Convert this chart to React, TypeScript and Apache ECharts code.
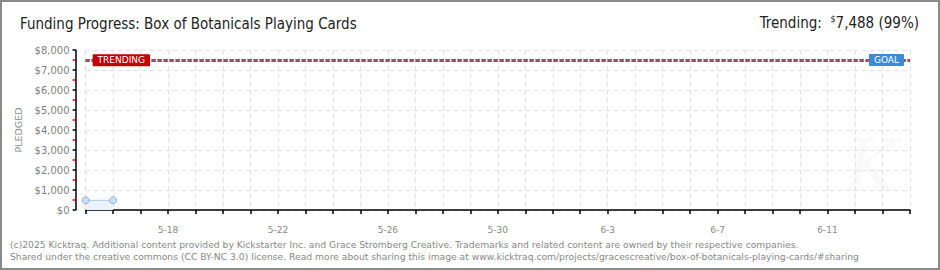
import React, { useEffect, useRef } from "react";
import * as echarts from "echarts";

const dates = [
  "5-15", "5-16", "5-17", "5-18", "5-19", "5-20", "5-21", "5-22", "5-23", "5-24",
  "5-25", "5-26", "5-27", "5-28", "5-29", "5-30", "5-31", "6-1", "6-2", "6-3",
  "6-4", "6-5", "6-6", "6-7", "6-8", "6-9", "6-10", "6-11", "6-12", "6-13", "6-14",
];
const pledged = [485, 485];
const goal = 7500;
const trending = 7488;
const trendingPct = 99;
const yMax = 8000;
const yStep = 1000;

const titleText = "Funding Progress: Box of Botanicals Playing Cards";
const footer1 =
  "(c)2025 Kicktraq. Additional content provided by Kickstarter Inc. and Grace Stromberg Creative. Trademarks and related content are owned by their respective companies.";
const footer2 =
  "Shared under the creative commons (CC BY-NC 3.0) license. Read more about sharing this image at www.kicktraq.com/projects/gracescreative/box-of-botanicals-playing-cards/#sharing";

const titleFont = "'Liberation Sans Narrow', 'DejaVu Sans Condensed', 'Liberation Sans', sans-serif";
const smallFont = "'DejaVu Sans', 'Liberation Sans', sans-serif";

export default function App() {
  const ref = useRef<HTMLDivElement>(null);
  useEffect(() => {
    if (!ref.current) return;
    const chart = echarts.init(ref.current, undefined, { renderer: "svg" });
    const fmt = (v: number) => "$" + v.toLocaleString("en-US");
    chart.setOption({
      animation: false,
      backgroundColor: "#ffffff",
      grid: { left: 85.6, right: 30, top: 50, bottom: 60, containLabel: false },
      xAxis: {
        type: "category",
        data: dates,
        boundaryGap: false,
        offset: 9,
        axisLine: { lineStyle: { color: "#000", width: 1.5 } },
        axisTick: { show: true, interval: 0, length: 4, lineStyle: { color: "#000", width: 1.5 } },
        axisLabel: {
          interval: (i: number) => i % 4 === 3,
          color: "#888",
          fontSize: 9,
          fontFamily: smallFont,
          margin: 6,
        },
        splitLine: {
          show: true,
          interval: 0,
          lineStyle: { color: "#e4e4e4", type: [5, 3], width: 1 },
        },
      },
      yAxis: {
        type: "value",
        min: 0,
        max: yMax,
        interval: yStep,
        offset: 10,
        name: "PLEDGED",
        nameLocation: "middle",
        nameGap: 50,
        nameTextStyle: { color: "#888", fontSize: 9.5, fontFamily: smallFont },
        axisLine: { show: true, lineStyle: { color: "#000", width: 1.5 } },
        axisTick: { show: true, length: 3, lineStyle: { color: "#000", width: 1.5 } },
        minorTick: { show: true, splitNumber: 2, length: 3, lineStyle: { color: "#e00000", width: 1.5 } },
        axisLabel: {
          formatter: fmt,
          color: "#808080",
          fontSize: 10,
          fontFamily: smallFont,
          margin: 6,
        },
        splitLine: { show: true, lineStyle: { color: "#e4e4e4", type: [5, 3], width: 1 } },
      },
      series: [
        {
          type: "line",
          data: pledged,
          symbol: "circle",
          symbolSize: 7,
          lineStyle: { color: "#a9c7ee", width: 1 },
          itemStyle: { color: "#c8ddf6", borderColor: "#8db3e2", borderWidth: 1 },
          areaStyle: { color: "#ebf3fd", opacity: 1 },
          markLine: {
            silent: true,
            symbol: "none",
            data: [
              {
                yAxis: goal,
                lineStyle: { color: "#9d4e60", type: [4, 2], width: 3 },
                label: {
                  show: true,
                  position: "insideEnd",
                  formatter: "GOAL",
                  color: "#fff",
                  fontSize: 9,
                  fontFamily: smallFont,
                  backgroundColor: "#3b8bd9",
                  padding: [2, 5, 1, 5],
                  borderRadius: 1,
                  distance: 6,
                },
              },
              {
                yAxis: trending,
                lineStyle: { color: "#9d4e60", type: [4, 2], width: 3 },
                label: {
                  show: true,
                  position: "insideStart",
                  formatter: "TRENDING",
                  color: "#fff",
                  fontSize: 9,
                  fontFamily: smallFont,
                  backgroundColor: "#c40000",
                  padding: [2, 5, 1, 5],
                  borderRadius: 1,
                  distance: 7,
                },
              },
            ],
          },
        },
      ],
      graphic: [
        {
          type: "rect",
          shape: { x: 1, y: 1, width: 938, height: 268 },
          style: { fill: "none", stroke: "#8a8a8a", lineWidth: 2 },
          silent: true,
          z: 100,
        },
        {
          type: "text",
          x: 872,
          y: 202,
          style: {
            text: "K",
            fill: "#f9f9f9",
            font: "italic 72px 'DejaVu Serif', serif",
            align: "center",
            verticalAlign: "bottom",
          },
          z: -1,
          silent: true,
        },
        {
          type: "text",
          x: 20,
          y: 24,
          style: {
            text: titleText,
            fill: "#222",
            font: `15px ${titleFont}`,
            verticalAlign: "middle",
          },
        },
        {
          type: "text",
          x: 919,
          y: 23,
          style: {
            text: `Trending:  {sup|$}${trending.toLocaleString("en-US")} (${trendingPct}%)`,
            fill: "#222",
            font: `15px ${titleFont}`,
            align: "right",
            verticalAlign: "middle",
            rich: {
              sup: { fontSize: 9, fontFamily: titleFont, verticalAlign: "top", fill: "#222", lineHeight: 18 },
            },
          },
        },
        {
          type: "text",
          x: 10,
          y: 244,
          style: { text: footer1, fill: "#888", font: `9.2px ${smallFont}`, verticalAlign: "middle" },
        },
        {
          type: "text",
          x: 10,
          y: 256,
          style: { text: footer2, fill: "#888", font: `9.2px ${smallFont}`, verticalAlign: "middle" },
        },
      ],
    });
    return () => chart.dispose();
  }, []);
  return (
    <div
      ref={ref}
      style={{ position: "absolute", left: 0, top: 0, width: 940, height: 270 }}
    />
  );
}
